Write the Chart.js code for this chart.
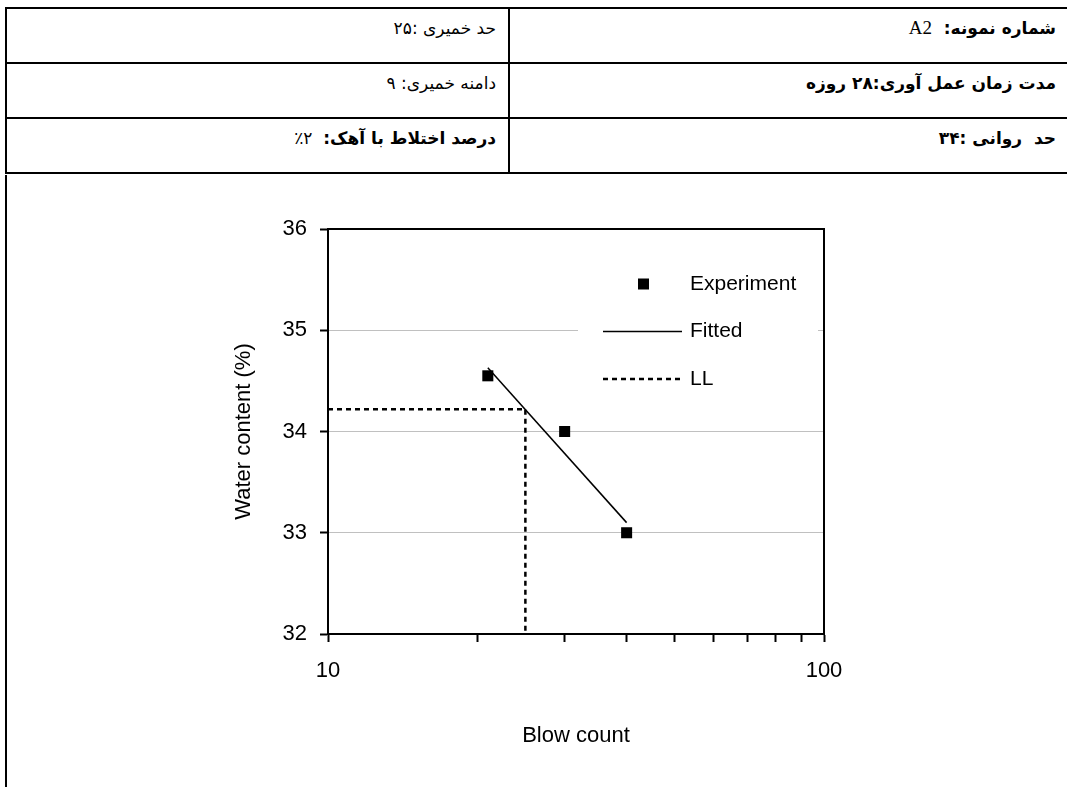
<!DOCTYPE html>
<html lang="fa">
<head>
<meta charset="utf-8">
<title>Liquid limit test</title>
<script src="https://cdn.jsdelivr.net/npm/chart.js@4.4.1/dist/chart.umd.min.js"></script>
<style>
  html, body { margin: 0; padding: 0; background: #fff; width: 1067px; height: 787px; overflow: hidden; }
  #info {
    position: absolute; left: 5px; top: 7px;
    border-collapse: separate; border-spacing: 0;
    table-layout: fixed; width: 1090px;
  }
  #info td {
    border-left: 2px solid #000; border-top: 2px solid #000;
    height: 45px; padding: 8px 10px 0 10px;
    vertical-align: top; direction: rtl; text-align: right;
    font-family: "DejaVu Sans", sans-serif; font-size: 17px; line-height: 22px;
  }
  #info tr:last-child td { border-bottom: 2px solid #000; }
  #info td.right { padding-right: 37px; }
  #info .b { font-weight: bold; }
  #info .latin { font-family: "Liberation Serif", serif; font-size: 19px; font-weight: normal; }
  #chartBox {
    position: absolute; left: 5px; top: 175px; width: 1100px; height: 620px;
    border-left: 2px solid #000;
  }
  #chart { position: absolute; left: 200px; top: 200px; }
</style>
</head>
<body>
<table id="info">
  <colgroup><col style="width:503px"><col></colgroup>
  <tr>
    <td>حد خمیری :۲۵</td>
    <td class="right b">شماره نمونه:&nbsp;&nbsp;<span class="latin">A2</span></td>
  </tr>
  <tr>
    <td>دامنه خمیری: ۹</td>
    <td class="right b">مدت زمان عمل آوری:۲۸ روزه</td>
  </tr>
  <tr>
    <td><span class="b">درصد اختلاط با آهک:</span>&nbsp;&nbsp;۲٪</td>
    <td class="right b">حد&nbsp; روانی :۳۴</td>
  </tr>
</table>
<div id="chartBox"></div>
<canvas id="chart" width="660" height="560"></canvas>

<script>
// measured points (blow count vs water content)
const blowCounts = [21, 30, 40];
const waterContent = [34.55, 34.0, 33.0];

// fitted line end points
const fitBlows = [21, 40];
const fitWater = [34.63, 33.1];

// liquid limit read at 25 blows
const llBlows = [10, 25, 25];
const llWater = [34.22, 34.22, 32];

const xTickValues = [10, 20, 30, 40, 50, 60, 70, 80, 90, 100];
const xLabelValues = [10, 100];
const yMin = 32, yMax = 36;
const yGridValues = [33, 34, 35];

const toPoints = (xs, ys) => xs.map((x, i) => ({ x: x, y: ys[i] }));

const axisFont = { family: "'Liberation Sans', Arial, sans-serif", size: 22 };

// white box with the legend, placed inside the plot
const insideLegend = {
  id: "insideLegend",
  beforeDatasetsDraw(chart) {
    const { ctx, chartArea: a } = chart;
    ctx.save();
    ctx.fillStyle = "#fff";
    ctx.fillRect(a.right - 246, a.top + 29, 240, 142);
    // frame on top and right of the plot
    ctx.strokeStyle = "#000";
    ctx.lineWidth = 2;
    ctx.beginPath();
    ctx.moveTo(a.left, a.top);
    ctx.lineTo(a.right, a.top);
    ctx.lineTo(a.right, a.bottom);
    ctx.stroke();
    ctx.restore();
  },
  afterDatasetsDraw(chart) {
    const { ctx, chartArea: a } = chart;
    const x0 = a.right - 221, x1 = a.right - 142, tx = a.right - 134;
    ctx.save();
    ctx.font = "21px 'Liberation Sans', Arial, sans-serif";
    ctx.textBaseline = "middle";
    ctx.fillStyle = "#000";
    chart.data.datasets.forEach((ds, i) => {
      const y = a.top + 55 + i * 47.5;
      if (ds.showLine) {
        ctx.strokeStyle = ds.borderColor;
        ctx.lineWidth = ds.borderWidth;
        ctx.setLineDash(ds.borderDash || []);
        ctx.beginPath();
        ctx.moveTo(x0, y);
        ctx.lineTo(x1, y);
        ctx.stroke();
        ctx.setLineDash([]);
      } else {
        const s = 11;
        ctx.fillRect((x0 + x1) / 2 - s / 2 + 1, y - s / 2, s, s);
      }
      ctx.fillText(ds.label, tx, y);
    });
    ctx.restore();
  }
};

new Chart(document.getElementById("chart"), {
  type: "scatter",
  data: {
    datasets: [
      {
        label: "Experiment",
        data: toPoints(blowCounts, waterContent),
        pointStyle: "rect",
        pointRadius: 7.8,
        backgroundColor: "#000",
        borderColor: "#000",
        borderWidth: 0,
        showLine: false
      },
      {
        label: "Fitted",
        data: toPoints(fitBlows, fitWater),
        showLine: true,
        borderColor: "#000",
        borderWidth: 1.5,
        pointRadius: 0
      },
      {
        label: "LL",
        data: toPoints(llBlows, llWater),
        showLine: true,
        borderColor: "#000",
        borderWidth: 2.5,
        borderDash: [5, 4],
        pointRadius: 0
      }
    ]
  },
  options: {
    responsive: false,
    animation: false,
    layout: { padding: { top: 29, right: 36, left: 0, bottom: 0 } },
    plugins: {
      legend: { display: false },
      tooltip: { enabled: false }
    },
    scales: {
      x: {
        type: "logarithmic",
        min: 10,
        max: 100,
        afterBuildTicks(scale) { scale.ticks = xTickValues.map((v) => ({ value: v })); },
        afterFit(scale) { scale.height = 126; },
        border: { color: "#000", width: 2 },
        grid: { drawOnChartArea: false, tickLength: 8, tickColor: "#000", tickWidth: 2 },
        ticks: {
          autoSkip: false,
          maxRotation: 0,
          padding: 16,
          color: "#000",
          font: axisFont,
          callback: (v) => (xLabelValues.includes(v) ? String(v) : "")
        },
        title: {
          display: true,
          text: "Blow count",
          color: "#000",
          font: axisFont,
          padding: { top: 0, bottom: 11 }
        }
      },
      y: {
        min: yMin,
        max: yMax,
        afterFit(scale) { scale.width = 128; },
        border: { color: "#000", width: 2 },
        grid: {
          color: (c) => (c.tick && yGridValues.includes(c.tick.value) ? "#c0c0c0" : "rgba(0,0,0,0)"),
          lineWidth: 1,
          tickLength: 8,
          tickColor: "#000",
          tickWidth: 2
        },
        ticks: {
          stepSize: 1,
          padding: 13,
          color: "#000",
          font: axisFont
        },
        title: {
          display: true,
          text: "Water content (%)",
          color: "#000",
          font: axisFont,
          padding: { top: 31, bottom: 0 }
        }
      }
    }
  },
  plugins: [insideLegend]
});
</script>
</body>
</html>
